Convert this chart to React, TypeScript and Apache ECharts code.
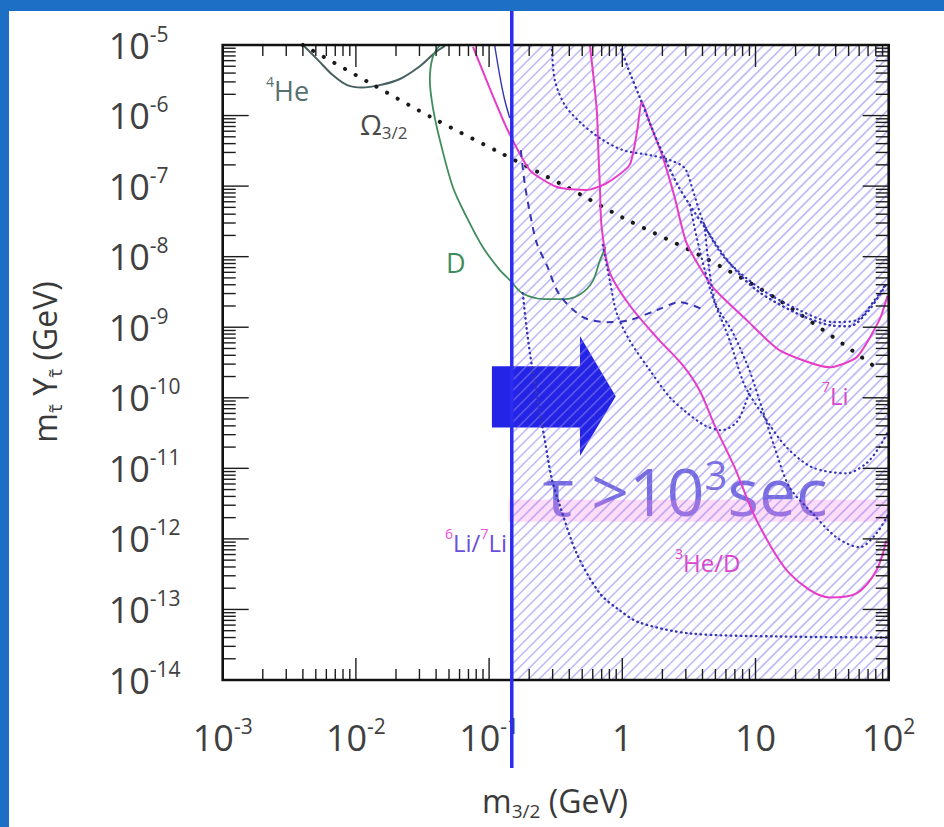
import React, { useEffect, useRef } from "react";
import * as echarts from "echarts";

// Axis ranges: gravitino mass m_3/2 (GeV) and stau abundance m·Y (GeV)
const M_RANGE = [1e-3, 1e2];
const Y_RANGE = [1e-14, 1e-5];
const X_DECADES = [-3, 2];
const Y_DECADES = [-14, -5];

// gravitino mass above which the stau lifetime exceeds 10^3 sec
const tauBoundaryMass = 0.148;

// BBN bounds, [m_3/2, m·Y]
const he4Bound = [
  [0.004, 1e-5], [0.0052, 6.1e-6], [0.0067, 3.75e-6], [0.0086, 2.7e-6], [0.0111, 2.5e-6],
  [0.0151, 2.7e-6], [0.0214, 3.3e-6], [0.0302, 5.0e-6], [0.039, 7.7e-6], [0.0466, 9.7e-6],
];
const deuteriumBound = [
  [0.0427, 1e-5], [0.0378, 6.8e-6], [0.0359, 3.2e-6], [0.0378, 1.32e-6], [0.0427, 4.5e-7],
  [0.0534, 9.7e-8], [0.068, 3.6e-8], [0.0898, 1.36e-8], [0.12, 6.5e-9], [0.143, 4.65e-9],
  [0.179, 3.0e-9], [0.262, 2.5e-9], [0.37, 2.5e-9], [0.48, 2.9e-9], [0.6, 4.5e-9],
  [0.68, 8.9e-9], [0.75, 1.36e-8],
];
const omegaBound = [
  [0.004, 1e-5], [0.0127, 2.9e-6], [0.0378, 9.2e-7], [0.127, 2.84e-7], [0.383, 9.7e-8],
  [1.0, 3.6e-8], [3.8, 1.05e-8], [15.1, 2.4e-9], [82, 2.6e-10],
];
const li7Bound = [
  [0.0757, 9.4e-6], [0.101, 2.45e-6], [0.138, 6.2e-7], [0.202, 1.69e-7], [0.322, 9.7e-8],
  [0.541, 8.8e-8], [0.764, 1.1e-7], [1.135, 2.0e-7], [1.3, 6.5e-7], [1.4, 1.6e-6],
  [1.61, 7.8e-7], [2.01, 2.6e-7], [2.47, 7.0e-8], [3.04, 1.55e-8], [4.78, 3.7e-9],
  [8.6, 1.26e-9], [15.2, 4.7e-10], [36, 2.7e-10], [57.5, 3.75e-10], [85, 1.26e-9], [98, 2.8e-9],
];
const he3dBound = [
  [0.571, 1e-5], [0.643, 1.2e-6], [0.66, 3.4e-7], [0.68, 9.0e-8], [0.7, 2.6e-8],
  [0.805, 6.0e-9], [1.135, 2.05e-9], [1.81, 7.2e-10], [2.84, 2.9e-10], [3.8, 1.28e-10],
  [4.93, 4.07e-11], [6.97, 1.03e-11], [10.2, 1.83e-12], [18, 3.24e-13], [36, 1.48e-13],
  [57.4, 1.69e-13], [81, 3.6e-13], [96, 9.5e-13],
];
const li6li7Band = [[0.14, 2.5e-12], [100, 2.5e-12]];

// hadronic-decay bounds (dotted / dashed)
const thinBound = [[0.11, 1e-5], [0.12, 3.75e-6], [0.131, 1.66e-6], [0.143, 9.2e-7]];
const dottedA = [
  [0.295, 1e-5], [0.311, 3.2e-6], [0.37, 1.41e-6], [0.48, 8.1e-7], [0.678, 4.8e-7],
  [1.01, 3.24e-7], [1.61, 2.75e-7], [2.27, 2.34e-7], [2.94, 1.8e-7], [3.38, 8.8e-8],
  [4.15, 2.8e-8], [5.87, 9.6e-9], [10.7, 3.6e-9], [21.4, 1.74e-9], [39, 1.18e-9],
  [57.4, 1.26e-9], [78, 2.4e-9], [96, 4.2e-9],
];
const dottedB = [
  [0.955, 1e-5], [1.135, 4.1e-6], [1.35, 1.83e-6], [1.61, 7.8e-7], [1.91, 3.57e-7],
  [2.56, 1.1e-7], [3.21, 5.4e-8], [4.3, 2.38e-8], [6.4, 8.1e-9], [10.2, 3.35e-9],
  [20.3, 1.58e-9], [36, 1.07e-9], [50.8, 1.03e-9], [69, 1.63e-9], [85, 2.84e-9], [98, 4.35e-9],
];
const dottedC = [
  [0.713, 1.46e-8], [0.805, 4.65e-9], [0.908, 1.58e-9], [1.135, 6.5e-10], [1.61, 2.45e-10],
  [2.27, 1.02e-10], [3.04, 6.2e-11], [4.15, 4.07e-11], [5.57, 3.46e-11], [7.2, 4.5e-11],
  [8.3, 7.8e-11], [9.35, 1.5e-10],
];
const dottedD = [
  [3.21, 5.4e-8], [3.81, 1.24e-8], [4.77, 2.67e-9], [6.4, 6.5e-10], [8.3, 1.5e-10],
  [12.1, 4.8e-11], [17.1, 1.99e-11], [26.8, 1.03e-11], [48.2, 8.5e-12], [68, 1.18e-11],
  [85, 1.99e-11], [98, 3.25e-11],
];
const dottedE = [
  [4.15, 2.8e-8], [4.93, 2.4e-9], [6.73, 8.5e-10], [9.0, 2.45e-10], [11.3, 6.7e-11],
  [13.9, 1.99e-11], [18, 5.4e-12], [26.8, 2.3e-12], [40.6, 1.05e-12], [60.4, 7.6e-13],
  [81, 1.2e-12], [98, 2.15e-12],
];
const dottedF = [
  [0.179, 3.03e-9], [0.192, 9.1e-10], [0.209, 2.9e-10], [0.232, 9.2e-11], [0.262, 2.5e-11],
  [0.295, 7.2e-12], [0.339, 3.0e-12], [0.455, 6.2e-13], [0.678, 1.69e-13], [0.957, 9.7e-14],
  [1.35, 6.5e-14], [3.21, 4.57e-14], [15.2, 4.14e-14], [98, 4.0e-14],
];
const dashedBound = [
  [0.173, 3.24e-7], [0.185, 1.1e-7], [0.202, 4.28e-8], [0.228, 1.55e-8], [0.271, 7.6e-9],
  [0.339, 2.85e-9], [0.507, 1.39e-9], [0.764, 1.18e-9], [1.135, 1.26e-9], [1.81, 1.74e-9],
  [2.7, 2.26e-9], [4.15, 1.74e-9],
];

// arrow pointing into the long-lifetime region
const arrowShaft = { mStart: 0.105, mEnd: 0.481, yLow: 3.8e-11, yHigh: 2.8e-10 };
const arrowHead = { mTip: 0.893, yTip: 1.05e-10, yLow: 1.5e-11, yHigh: 7.5e-10 };

const BLUE_LINE = "#2b2bf2";
const DOT_BLUE = "#3434b4";
const MAGENTA = "#e63cc8";
const FONT = "'Open Sans', 'DejaVu Sans', sans-serif";

function decadeTicks(lo: number, hi: number) {
  const out: { v: number; major: boolean }[] = [];
  for (let e = lo; e <= hi; e++) {
    for (let k = 1; k <= 9; k++) {
      if (e === hi && k > 1) break;
      out.push({ v: k * Math.pow(10, e), major: k === 1 });
    }
  }
  return out;
}
const xTicks = decadeTicks(X_DECADES[0], X_DECADES[1]);
const yTicks = decadeTicks(Y_DECADES[0], Y_DECADES[1]);

const tickRich = {
  b: { fontSize: 36, fontFamily: FONT, color: "#404040", lineHeight: 44, verticalAlign: "middle" },
  s: { fontSize: 21, fontFamily: FONT, color: "#404040", lineHeight: 20, verticalAlign: "top" },
};
function powLabel(v: number, plainNear: boolean) {
  const e = Math.round(Math.log10(v));
  if (plainNear && e === 0) return "{b|1}";
  if (plainNear && e === 1) return "{b|10}";
  return `{b|10}{s|${e}}`;
}

function lineSeries(data: number[][], color: string, width: number, type: any, z = 4, extra: any = {}) {
  return {
    type: "line",
    data,
    symbol: "none",
    smooth: 0.3,
    silent: true,
    z,
    lineStyle: { color, width, type, ...(extra.lineStyle || {}) },
    ...(extra.series || {}),
  };
}

export default function App() {
  const ref = useRef<HTMLDivElement>(null);

  useEffect(() => {
    const chart = echarts.init(ref.current!, null, { renderer: "svg" });

    const hatchSeries = {
      type: "custom",
      coordinateSystem: "cartesian2d",
      silent: true,
      z: 3,
      data: [[tauBoundaryMass, Y_RANGE[1]]],
      renderItem: (_p: any, api: any) => {
        const [xa, yt] = api.coord([tauBoundaryMass, Y_RANGE[1]]);
        const [xb, yb] = api.coord([M_RANGE[1], Y_RANGE[0]]);
        const step = 10.5;
        const children: any[] = [];
        for (let c = xa + yt; c <= xb + yb; c += step) {
          const x1 = Math.max(xa, c - yb);
          const x2 = Math.min(xb, c - yt);
          if (x2 <= x1) continue;
          children.push({
            type: "line",
            shape: { x1, y1: c - x1, x2, y2: c - x2 },
            style: { stroke: "rgba(140,130,240,0.55)", lineWidth: 1.7 },
          });
        }
        return { type: "group", children };
      },
    };

    const arrowSeries = {
      type: "custom",
      coordinateSystem: "cartesian2d",
      silent: true,
      z: 2,
      data: [[arrowShaft.mStart, arrowShaft.yHigh]],
      renderItem: (_p: any, api: any) => {
        const pts = [
          [arrowShaft.mStart, arrowShaft.yHigh],
          [arrowShaft.mEnd, arrowShaft.yHigh],
          [arrowShaft.mEnd, arrowHead.yHigh],
          [arrowHead.mTip, arrowHead.yTip],
          [arrowShaft.mEnd, arrowHead.yLow],
          [arrowShaft.mEnd, arrowShaft.yLow],
          [arrowShaft.mStart, arrowShaft.yLow],
        ].map((p) => api.coord(p));
        return { type: "polygon", shape: { points: pts }, style: { fill: "#2424e6" } };
      },
    };

    const frameSeries = {
      type: "custom",
      coordinateSystem: "cartesian2d",
      silent: true,
      z: 5,
      data: [[M_RANGE[0], Y_RANGE[0]]],
      renderItem: (_p: any, api: any) => {
        const [xl, yt] = api.coord([M_RANGE[0], Y_RANGE[1]]);
        const [xr, yb] = api.coord([M_RANGE[1], Y_RANGE[0]]);
        const children: any[] = [];
        const tick = (x1: number, y1: number, x2: number, y2: number) =>
          children.push({ type: "line", shape: { x1, y1, x2, y2 }, style: { stroke: "#1c1c1c", lineWidth: 1.4 } });
        for (const t of xTicks) {
          const x = api.coord([t.v, Y_RANGE[0]])[0];
          const len = t.major ? 22 : 11;
          tick(x, yb, x, yb - len);
          tick(x, yt, x, yt + len);
        }
        for (const t of yTicks) {
          const y = api.coord([M_RANGE[0], t.v])[1];
          const len = t.major ? 26 : 13;
          tick(xl, y, xl + len, y);
          tick(xr, y, xr - len, y);
        }
        children.push({
          type: "rect",
          shape: { x: xl, y: yt, width: xr - xl, height: yb - yt },
          style: { fill: "none", stroke: "#111", lineWidth: 2.6 },
        });
        return { type: "group", children };
      },
    };

    const boundarySeries = {
      type: "custom",
      coordinateSystem: "cartesian2d",
      silent: true,
      clip: false,
      z: 6,
      data: [[tauBoundaryMass, Y_RANGE[1]]],
      renderItem: (_p: any, api: any) => {
        const [x, yt] = api.coord([tauBoundaryMass, Y_RANGE[1]]);
        const yb = api.coord([tauBoundaryMass, Y_RANGE[0]])[1];
        return {
          type: "line",
          shape: { x1: x, y1: yt - 45, x2: x, y2: yb + 88 },
          style: { stroke: BLUE_LINE, lineWidth: 3.5 },
        };
      },
    };

    const txt = (x: number, y: number, text: string, rich: any, z = 10, extra: any = {}) => ({
      type: "text",
      x,
      y,
      z,
      silent: true,
      ...extra,
      style: { text, rich, align: "left", verticalAlign: "middle", ...(extra.style || {}) },
    });

    const dotted = { lineStyle: { cap: "round" } };

    const option: any = {
      animation: false,
      backgroundColor: "#ffffff",
      grid: { left: 222.7, top: 45, right: 55.3, bottom: 147, containLabel: false },
      xAxis: {
        type: "log",
        logBase: 10,
        min: M_RANGE[0],
        max: M_RANGE[1],
        splitNumber: 5,
        axisLine: { show: false },
        axisTick: { show: false },
        splitLine: { show: false },
        minorTick: { show: false },
        axisLabel: {
          margin: 35,
          interval: 0,
          showMinLabel: true,
          showMaxLabel: true,
          formatter: (v: number) => powLabel(v, true),
          rich: tickRich,
        },
      },
      yAxis: {
        type: "log",
        logBase: 10,
        min: Y_RANGE[0],
        max: Y_RANGE[1],
        splitNumber: 9,
        axisLine: { show: false },
        axisTick: { show: false },
        splitLine: { show: false },
        minorTick: { show: false },
        axisLabel: {
          margin: 114,
          align: "left",
          interval: 0,
          showMinLabel: true,
          showMaxLabel: true,
          formatter: (v: number) => powLabel(v, false),
          rich: tickRich,
        },
      },
      series: [
        arrowSeries,
        lineSeries(li6li7Band, "rgba(255,130,225,0.28)", 22, "solid", 2, { series: { smooth: false } }),
        hatchSeries,
        lineSeries(he4Bound, "#46605f", 2, "solid"),
        lineSeries(deuteriumBound, "#3f8c5e", 1.8, "solid"),
        lineSeries(omegaBound, "#1a1a1a", 4, [0.1, 12], 4, dotted),
        lineSeries(li7Bound, MAGENTA, 2, "solid", 4, { series: { smooth: 0.2 } }),
        lineSeries(he3dBound, MAGENTA, 2, "solid"),
        lineSeries(thinBound, DOT_BLUE, 1.4, "solid"),
        lineSeries(dottedA, DOT_BLUE, 2.2, [0.5, 4.5], 4, dotted),
        lineSeries(dottedB, DOT_BLUE, 2.4, [0.5, 4.5], 4, dotted),
        lineSeries(dottedC, DOT_BLUE, 2.2, [0.5, 4.5], 4, dotted),
        lineSeries(dottedD, DOT_BLUE, 2.2, [0.5, 4.5], 4, dotted),
        lineSeries(dottedE, DOT_BLUE, 2.2, [0.5, 4.5], 4, dotted),
        lineSeries(dottedF, DOT_BLUE, 2.4, [0.5, 4.5], 4, dotted),
        lineSeries(dashedBound, DOT_BLUE, 2, [7, 6]),
        frameSeries,
        boundarySeries,
      ],
      graphic: [
        // slide frame
        { type: "rect", z: 100, shape: { x: 0, y: 0, width: 944, height: 11 }, style: { fill: "#1d6fc6" } },
        { type: "rect", z: 100, shape: { x: 0, y: 0, width: 9, height: 827 }, style: { fill: "#1d6fc6" } },
        // curve labels
        txt(266, 90, "{s|4}{t|He}", {
          s: { fontSize: 14, fontFamily: FONT, fill: "#56706f", lineHeight: 14, verticalAlign: "top" },
          t: { fontSize: 27, fontFamily: FONT, fill: "#56706f", lineHeight: 32, verticalAlign: "middle" },
        }),
        txt(360, 124, "{t|Ω}{s|3/2}", {
          t: { fontSize: 28, fontFamily: FONT, fill: "#4a4a4a", lineHeight: 34, verticalAlign: "middle" },
          s: { fontSize: 17, fontFamily: FONT, fill: "#4a4a4a", lineHeight: 17, verticalAlign: "bottom" },
        }),
        txt(446, 262, "{t|D}", {
          t: { fontSize: 27, fontFamily: FONT, fill: "#3f8c5e", lineHeight: 32 },
        }),
        txt(445, 542, "{m|6}{v|Li/}{m|7}{v|Li}", {
          m: { fontSize: 14, fontFamily: FONT, fill: "#f050d8", lineHeight: 14, verticalAlign: "top" },
          v: { fontSize: 24, fontFamily: FONT, fill: "#6a4ee0", lineHeight: 32, verticalAlign: "middle" },
        }, 1),
        txt(822, 395, "{m|7}{v|Li}", {
          m: { fontSize: 14, fontFamily: FONT, fill: MAGENTA, lineHeight: 14, verticalAlign: "top" },
          v: { fontSize: 24, fontFamily: FONT, fill: MAGENTA, lineHeight: 32, verticalAlign: "middle" },
        }, 1),
        txt(675, 562, "{m|3}{v|He/D}", {
          m: { fontSize: 14, fontFamily: FONT, fill: MAGENTA, lineHeight: 14, verticalAlign: "top" },
          v: { fontSize: 24, fontFamily: FONT, fill: MAGENTA, lineHeight: 32, verticalAlign: "middle" },
        }, 1),
        txt(543, 490, "{a|τ >10}{s|3}{a|sec}", {
          a: { fontSize: 66, fontFamily: FONT, fill: "rgba(84,70,215,0.8)", lineHeight: 72, verticalAlign: "middle" },
          s: { fontSize: 40, fontFamily: FONT, fill: "rgba(84,70,215,0.8)", lineHeight: 40, verticalAlign: "top" },
        }, 1),
        // axis titles
        txt(555, 800, "{a|m}{s|3/2}{a| (GeV)}", {
          a: { fontSize: 32, fontFamily: FONT, fill: "#3a3a3a", lineHeight: 40, verticalAlign: "middle" },
          s: { fontSize: 19, fontFamily: FONT, fill: "#3a3a3a", lineHeight: 19, verticalAlign: "bottom" },
        }, 10, { style: { align: "center" } }),
        txt(44, 362, "{a|m}{s|τ\u0303}{a| Y}{s|τ\u0303}{a| (GeV)}", {
          a: { fontSize: 32, fontFamily: FONT, fill: "#3a3a3a", lineHeight: 40, verticalAlign: "middle" },
          s: { fontSize: 19, fontFamily: FONT, fill: "#3a3a3a", lineHeight: 19, verticalAlign: "bottom" },
        }, 10, { rotation: Math.PI / 2, style: { align: "center" } }),
      ],
    };

    chart.setOption(option);
    return () => chart.dispose();
  }, []);

  return (
    <div
      ref={ref}
      style={{ position: "fixed", left: 0, top: 0, width: 944, height: 827, background: "#fff" }}
    />
  );
}
